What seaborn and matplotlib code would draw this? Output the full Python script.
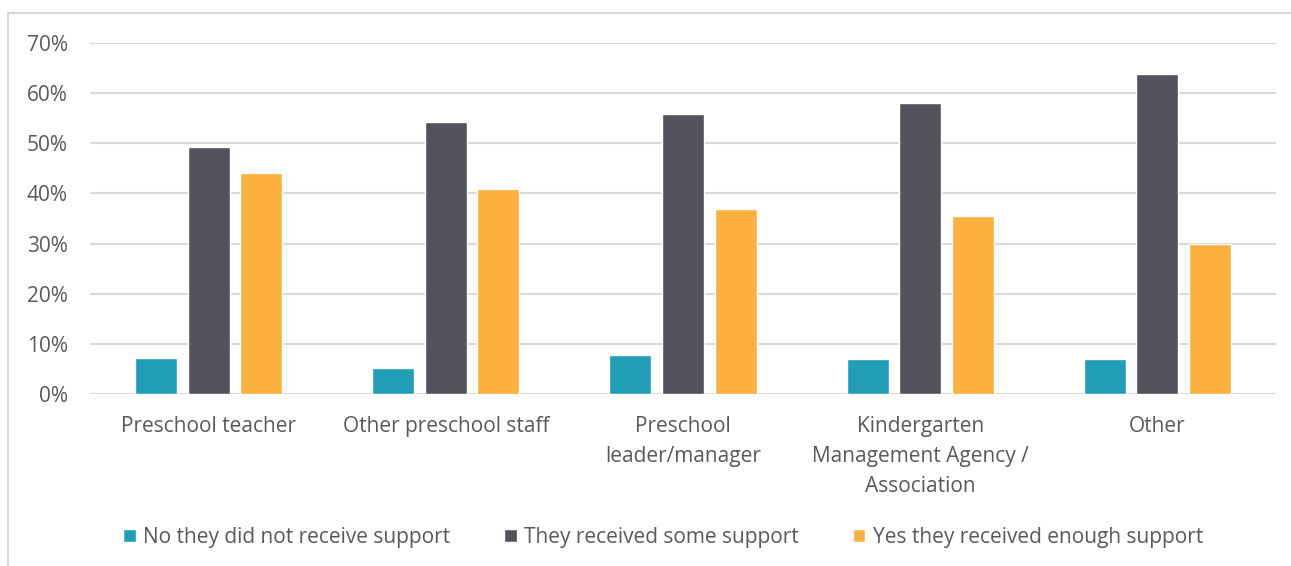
import matplotlib
matplotlib.use("Agg")
import matplotlib.pyplot as plt
from matplotlib.patches import Rectangle
from matplotlib.ticker import PercentFormatter
import pandas as pd
import seaborn as sns

categories = [
    "Preschool teacher",
    "Other preschool staff",
    "Preschool\nleader/manager",
    "Kindergarten\nManagement Agency /\nAssociation",
    "Other",
]
series_names = [
    "No they did not receive support",
    "They received some support",
    "Yes they received enough support",
]
no_support = [7.1, 5.1, 7.7, 6.9, 6.9]
some_support = [49.2, 54.2, 55.8, 58.0, 63.8]
enough_support = [44.0, 40.8, 36.8, 35.4, 30.0]
colors = ["#219EB5", "#55525C", "#FBB040"]

rows = []
for name, vals in zip(series_names, [no_support, some_support, enough_support]):
    for cat, v in zip(categories, vals):
        rows.append({"category": cat, "series": name, "value": v / 100})
df = pd.DataFrame(rows)

sns.set_theme(style="white")
plt.rcParams["font.family"] = ["Open Sans", "DejaVu Sans"]
text_color = "#595959"
fs = 15

fig = plt.figure(figsize=(12.91, 5.66), dpi=100)
ax = fig.add_axes([90 / 1291, 1 - 394 / 566, (1276 - 90) / 1291, (394 - 43) / 566])

sns.barplot(
    data=df, x="category", y="value", hue="series",
    order=categories, hue_order=series_names, palette=colors,
    width=0.665, gap=0.2, saturation=1, ax=ax, legend=True,
)

ax.set_ylim(0, 0.7)
ax.set_yticks([i / 10 for i in range(8)])
ax.yaxis.set_major_formatter(PercentFormatter(1.0, decimals=0))
ax.grid(axis="y", color="#D9D9D9", linewidth=1.5)
ax.set_axisbelow(True)
for s in ax.spines.values():
    s.set_visible(False)
ax.set_xlabel("")
ax.set_ylabel("")
ax.tick_params(axis="both", length=0, colors=text_color, labelsize=fs)
ax.tick_params(axis="y", pad=16)
ax.tick_params(axis="x", pad=16)
for lbl in ax.get_xticklabels():
    lbl.set_linespacing(1.55)
    lbl.set_verticalalignment("top")

handles, labels = ax.get_legend_handles_labels()
ax.legend_.remove()
fig.legend(
    handles, labels, loc="center", bbox_to_anchor=(663 / 1291, 1 - 537 / 566),
    ncol=3, frameon=False, fontsize=fs, labelcolor=text_color,
    handlelength=0.6, handleheight=0.6, handletextpad=0.35, columnspacing=2.6,
)

fig.patches.append(Rectangle(
    (8 / 1291, -0.1), 1.2, 1 - 13 / 566 + 0.1, transform=fig.transFigure,
    fill=False, edgecolor="#D9D9D9", linewidth=1.5, zorder=0,
))

fig.savefig("out.png", dpi=100, facecolor="white")
